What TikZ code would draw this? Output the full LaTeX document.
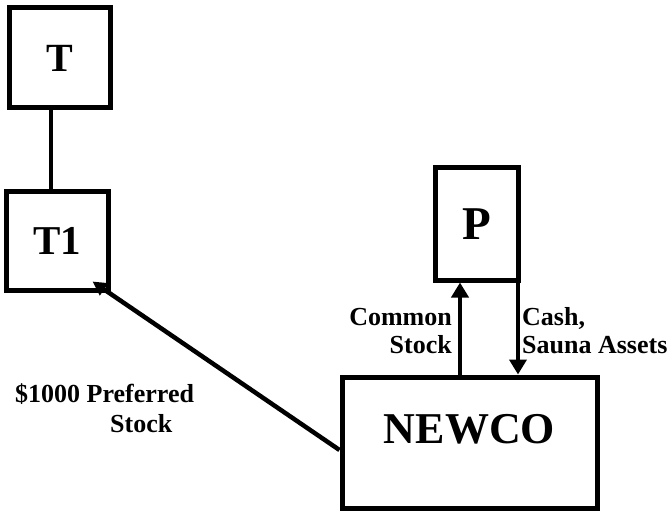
\documentclass[tikz,border=0pt]{standalone}
\usepackage{fontspec}
\setmainfont{Liberation Serif}
\usetikzlibrary{arrows.meta,calc}
\begin{document}
\begin{tikzpicture}[x=1pt,y=-1pt,
  box/.style={draw,line width=5pt,inner sep=0pt},
  big/.style={font=\bfseries\fontsize{#1}{#1}\selectfont},
  lab/.style={font=\bfseries\fontsize{26}{28}\selectfont,inner sep=0pt},
  conn/.style={line width=4.5pt},
  tipbig/.style={-{Triangle[width=17pt,length=15pt]}},
  tipsmall/.style={-{Triangle[width=14pt,length=14pt]}}]
\useasboundingbox (0,0) rectangle (672,513);
\node[box,big=40,minimum width=101pt,minimum height=100pt] (T) at (59.5,58) {T};
\node[box,big=41,minimum width=102pt,minimum height=98pt] (T1) at (57,241) {T1};
\node[box,big=47,minimum width=83pt,minimum height=112pt] (P) at (476.5,224) {P};
\node[box,big=44,minimum width=255pt,minimum height=131pt,text depth=28pt] (NEWCO) at (469.5,442.5) {NEWCO};
\draw[conn] ([xshift=-8.5pt]T.south) -- ([xshift=-6pt]T1.north);
\draw[conn,tipbig] ([xshift=-9.5pt]NEWCO.north) -- ([xshift=-16.5pt]P.south);
\draw[conn,tipbig] ([xshift=41.5pt]P.south) -- ([xshift=48.5pt]NEWCO.north);
\draw[conn,tipsmall] ($(NEWCO.west)+(0,7.5)$) -- ($(T1.south east)+(-18,-11)$);
\node[lab,anchor=base east] (common) at (452,325) {Common};
\node[lab,anchor=base east] (stock1) at (452,353) {Stock};
\node[lab,anchor=base west] (cash) at (522,325) {Cash,};
\node[lab,anchor=base west] (sauna) at (522,353) {Sauna Assets};
\node[lab,anchor=base west] (pref) at (15,402) {\$1000 Preferred};
\node[lab,anchor=base west] (stock2) at (110,432) {Stock};
\end{tikzpicture}
\end{document}
